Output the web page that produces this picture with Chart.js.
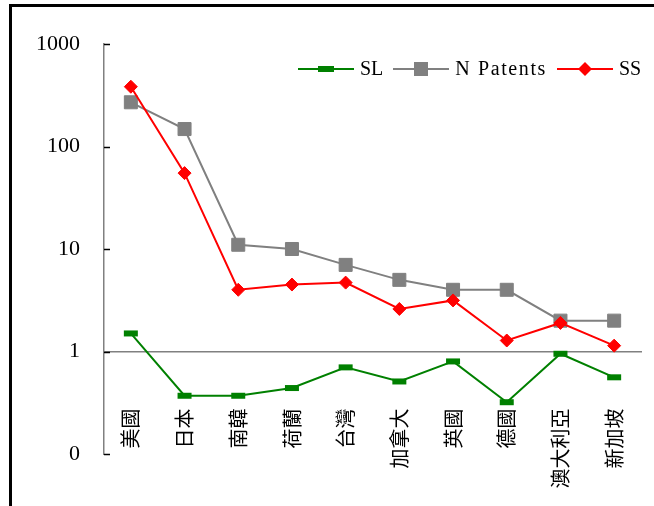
<!DOCTYPE html>
<html>
<head>
<meta charset="utf-8">
<script src="https://cdn.jsdelivr.net/npm/chart.js@4.4.1/dist/chart.umd.min.js"></script>
<style>
  html, body { margin: 0; padding: 0; background: #fff; }
  #wrap { position: relative; width: 654px; height: 506px; overflow: hidden; }
  #frame { position: absolute; left: 9px; top: 4px; width: 700px; height: 600px;
           border-left: 3px solid #000; border-top: 3px solid #000; }
  #c { position: absolute; left: 0; top: 0; }
</style>
</head>
<body>
<div id="wrap">
  <div id="frame"></div>
  <canvas id="c" width="654" height="506"></canvas>
</div>
<script>
// Countries on the category axis
const countries = ['美國', '日本', '南韓', '荷蘭', '台灣', '加拿大', '英國', '德國', '澳大利亞', '新加坡'];
// Series values (log scale)
const slValues = [1.50, 0.37, 0.37, 0.44, 0.70, 0.51, 0.80, 0.32, 0.95, 0.56];
const nPatents = [270, 148, 11, 10, 7, 5, 4, 4, 2, 2];
const ssValues = [383, 55, 4.0, 4.5, 4.7, 2.6, 3.15, 1.28, 1.9, 1.14];
// Value-axis ticks and their labels
const yTickValues = [0.1, 1, 10, 100, 1000];
const yTickLabels = ['0', '1', '10', '100', '1000'];

const GREEN = '#008000', GRAY = '#808080', RED = '#ff0000';

// Legend symbol: a short line with the series marker in the middle
function legendSymbol(color, marker) {
  const c = document.createElement('canvas');
  c.width = 56; c.height = 16;
  const g = c.getContext('2d');
  g.strokeStyle = color; g.lineWidth = 2;
  g.beginPath(); g.moveTo(0, 8); g.lineTo(56, 8); g.stroke();
  g.fillStyle = color;
  if (marker === 'bar') {
    g.fillRect(20, 5, 16, 6);
  } else if (marker === 'square') {
    g.fillRect(21, 1, 14, 14);
  } else {
    g.beginPath(); g.moveTo(28, 1); g.lineTo(35, 8); g.lineTo(28, 15); g.lineTo(21, 8);
    g.closePath(); g.fill();
  }
  return c;
}
const symbols = [legendSymbol(GREEN, 'bar'), legendSymbol(GRAY, 'square'), legendSymbol(RED, 'diamond')];

// Short tick marks on the inner side of the value axis
const innerTicks = {
  id: 'innerTicks',
  beforeDatasetsDraw(chart) {
    const ys = chart.scales.y;
    const ctx = chart.ctx;
    ctx.save();
    ctx.strokeStyle = '#000';
    ctx.lineWidth = 1.5;
    yTickValues.forEach(v => {
      const p = Math.round(ys.getPixelForValue(v)) + 0.5;
      ctx.beginPath();
      ctx.moveTo(ys.right, p);
      ctx.lineTo(ys.right + 6, p);
      ctx.stroke();
    });
    ctx.restore();
  }
};

// One-row legend inside the plot, right-aligned, line + marker symbols
const lineLegend = {
  id: 'lineLegend',
  afterDraw(chart) {
    const ctx = chart.ctx;
    const area = chart.chartArea;
    ctx.save();
    ctx.font = '20px "Liberation Serif"';
    ctx.textBaseline = 'middle';
    ctx.fillStyle = '#000';
    const cy = Math.round(area.top + 25);
    const symW = 56, gapText = 6, gapItem = 10;
    const spacing = t => (t.length > 2 ? '1.6px' : '0px');
    const items = chart.data.datasets.map((ds, i) => {
      if ('letterSpacing' in ctx) ctx.letterSpacing = spacing(ds.label);
      return { text: ds.label, sym: symbols[i], w: ctx.measureText(ds.label).width };
    });
    const total = items.reduce((s, it) => s + symW + gapText + it.w, 0) + gapItem * (items.length - 1);
    let x = Math.round(area.right - total);
    items.forEach(it => {
      ctx.drawImage(it.sym, Math.round(x), cy - 8);
      x += symW + gapText;
      if ('letterSpacing' in ctx) ctx.letterSpacing = spacing(it.text);
      ctx.fillText(it.text, x, cy + 1);
      x += it.w + gapItem;
    });
    ctx.restore();
  }
};

new Chart(document.getElementById('c'), {
  type: 'line',
  data: {
    labels: countries,
    datasets: [
      {
        label: 'SL', data: slValues, order: 2,
        borderColor: GREEN, backgroundColor: GREEN, borderWidth: 2,
        pointStyle: 'line', pointRadius: 7, pointBorderWidth: 6,
        pointBorderColor: GREEN, pointBackgroundColor: GREEN
      },
      {
        label: 'N Patents', data: nPatents, order: 1,
        borderColor: GRAY, backgroundColor: GRAY, borderWidth: 2,
        pointStyle: 'rect', pointRadius: 9.2, pointBorderWidth: 1,
        pointBorderColor: GRAY, pointBackgroundColor: GRAY
      },
      {
        label: 'SS', data: ssValues, order: 0,
        borderColor: RED, backgroundColor: RED, borderWidth: 2,
        pointStyle: 'rectRot', pointRadius: 6.5, pointBorderWidth: 1,
        pointBorderColor: RED, pointBackgroundColor: RED
      }
    ]
  },
  options: {
    responsive: false,
    animation: false,
    layout: { padding: { left: 10, right: 11, top: 44, bottom: 52 } },
    elements: { line: { tension: 0 } },
    scales: {
      x: {
        type: 'category',
        offset: true,
        position: { y: 1 },
        // hidden tick marks whose length sets the label drop below the axis line
        grid: { display: false, drawTicks: true, tickLength: 57 },
        border: { color: GRAY, width: 1.5 },
        ticks: {
          minRotation: 90, maxRotation: 90, autoSkip: false, padding: 0,
          color: '#000',
          font: { family: '"Noto Sans CJK TC"', size: 20 }
        }
      },
      y: {
        type: 'logarithmic',
        min: 0.1, max: 1000,
        afterBuildTicks: s => { s.ticks = yTickValues.map(v => ({ value: v })); },
        afterFit: s => { s.width = 94; },
        grid: { display: false, drawTicks: false },
        border: { color: GRAY, width: 1.5 },
        ticks: {
          padding: 24,
          color: '#000',
          font: { family: '"Liberation Serif"', size: 22 },
          callback: v => yTickLabels[yTickValues.indexOf(v)]
        }
      }
    },
    plugins: {
      tooltip: { enabled: false },
      legend: { display: false }
    }
  },
  plugins: [innerTicks, lineLegend]
});
</script>
</body>
</html>
